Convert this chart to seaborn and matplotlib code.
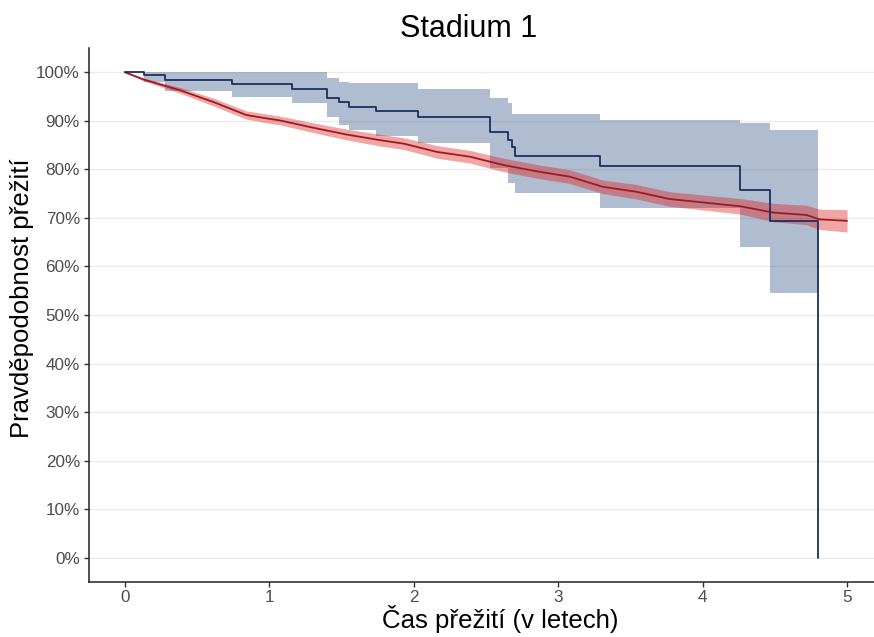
import matplotlib
matplotlib.use("Agg")
import matplotlib.pyplot as plt
import seaborn as sns
from matplotlib.ticker import PercentFormatter

# Survival curve of the study group (Kaplan-Meier steps)
blue_time = [0, 0.13, 0.28, 0.74, 1.16, 1.40, 1.48, 1.55, 1.74, 2.03, 2.53, 2.65, 2.68, 2.70, 3.29, 4.26, 4.47, 4.80]
blue_surv = [1.0, .994, .984, .976, .966, .948, .938, .929, .920, .907, .877, .860, .846, .828, .807, .757, .693, 0.0]
blue_upper = [1.0, 1.0, 1.0, 1.0, 1.0, .989, .980, .977, .977, .965, .946, .937, .914, .914, .902, .896, .881, .881]
blue_lower = [1.0, .980, .962, .949, .937, .907, .891, .881, .868, .854, .802, .771, .771, .751, .720, .640, .546, .546]

# Survival curve of the reference population
red_time = [0, 0.13, 0.38, 0.61, 0.84, 0.98, 1.07, 1.30, 1.53, 1.77, 1.93, 2.16, 2.39, 2.62,
            2.85, 3.08, 3.31, 3.54, 3.77, 4.03, 4.26, 4.49, 4.72, 4.81, 5.0]
red_surv = [1.0, .985, .963, .939, .912, .905, .901, .886, .872, .860, .853, .836, .826, .809,
            .796, .785, .764, .754, .739, .731, .724, .711, .706, .697, .694]
red_err = [0, .003, .006, .008, .0085, .009, .009, .010, .011, .012, .012, .013, .013, .014,
           .014, .014, .014, .015, .015, .0155, .016, .019, .020, .021, .023]

x_ticks = [0, 1, 2, 3, 4, 5]
y_ticks = [i / 10 for i in range(11)]

sns.set_style("white")
plt.rcParams["font.family"] = ["Liberation Sans", "DejaVu Sans"]

fig = plt.figure(figsize=(8.74, 6.37), dpi=100)
ax = fig.add_axes([89 / 874, 1 - 582 / 637, 1 - 89 / 874, (582 - 48) / 637])

# grid lines (horizontal only)
for y in y_ticks:
    ax.axhline(y, color="#ebebeb", lw=1.0, zorder=0)

# confidence bands
ax.fill_between(blue_time, blue_lower, blue_upper, step="post", color="#3a5888", alpha=0.4, lw=0, zorder=1)
red_lo = [s - e for s, e in zip(red_surv, red_err)]
red_hi = [s + e for s, e in zip(red_surv, red_err)]
ax.fill_between(red_time, red_lo, red_hi, color="#de1e1e", alpha=0.4, lw=0, zorder=2)

# survival curves
sns.lineplot(x=red_time, y=red_surv, color="#9e1a22", lw=1.3, ax=ax, zorder=3)
sns.lineplot(x=blue_time, y=blue_surv, color="#1c2f5e", lw=1.3, drawstyle="steps-post", ax=ax, zorder=4)

ax.set_xlim(-0.249, 5.187)
ax.set_ylim(-0.05, 1.05)
ax.set_xticks(x_ticks)
ax.set_yticks(y_ticks)
ax.yaxis.set_major_formatter(PercentFormatter(1.0, decimals=0))

for side in ["top", "right"]:
    ax.spines[side].set_visible(False)
for side in ["left", "bottom"]:
    ax.spines[side].set_color("#222222")
    ax.spines[side].set_linewidth(1.1)

ax.tick_params(axis="both", length=3.5, width=1.0, color="#333333", labelsize=12.3,
               labelcolor="#4d4d4d", pad=3, direction="out", bottom=True, left=True)
ax.tick_params(axis="x", pad=2.5)

ax.set_xlabel("Čas přežití (v letech)", fontsize=18.5, color="black")
ax.set_ylabel("Pravděpodobnost přežití", fontsize=18.5, color="black")
ax.xaxis.set_label_coords((500 - 89) / 785, -(628 - 582) / 534, transform=ax.transAxes)
ax.yaxis.set_label_coords(-(89 - 22) / 785, (582 - 298) / 534, transform=ax.transAxes)
ax.xaxis.label.set_va("baseline")
ax.yaxis.label.set_va("center")

fig.text(469 / 874, 1 - 37 / 637, "Stadium 1", fontsize=22, color="black", ha="center", va="baseline")

fig.savefig("out.png", dpi=100)
